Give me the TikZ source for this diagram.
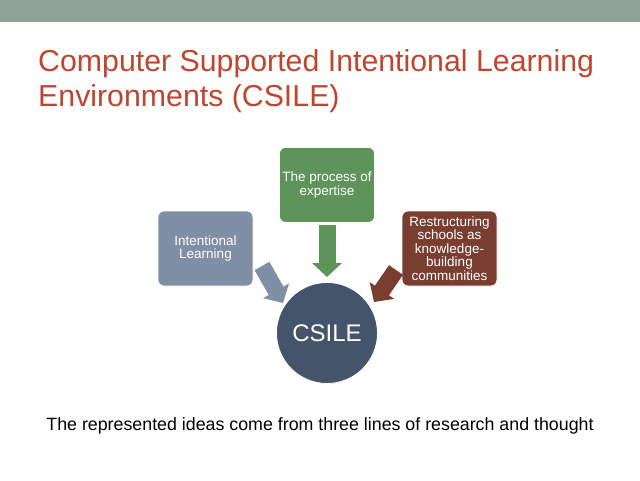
\documentclass[tikz,border=0pt]{standalone}
\usepackage{fontspec}
\setmainfont{Liberation Sans}
\usetikzlibrary{arrows.meta}
\definecolor{bar}{HTML}{8FA39A}
\definecolor{ttl}{HTML}{C0452F}
\definecolor{cgray}{HTML}{7F8FA6}
\definecolor{cgreen}{HTML}{5E9359}
\definecolor{cbrown}{HTML}{7A3E31}
\definecolor{cdark}{HTML}{44546A}
\begin{document}
\begin{tikzpicture}[x=1pt,y=-1pt,
 box/.style={draw=white,line width=0.8pt,rounded corners=6pt,minimum width=95pt,minimum height=75pt,text=white,font=\fontsize{13.5}{13.5}\selectfont,align=center,inner sep=2pt},
 fat/.style={line width=17pt,-{Triangle[width=29pt,length=14pt]}, shorten >=0pt}]
\useasboundingbox (0,0) rectangle (640,480);
\fill[white] (0,0) rectangle (640,480);
\fill[bar] (0,0) rectangle (640,22);
\node[anchor=west,text=ttl,font=\fontsize{30.3}{35}\selectfont,align=left,inner sep=0] (title) at (38,81) {Computer Supported Intentional Learning\\Environments (CSILE)};
\node[box,fill=cgray] (il) at (205.5,248.5) {Intentional\\Learning};
\node[box,fill=cgreen,anchor=north] (pe) at (327,147) {The process of\\expertise};
\node[box,fill=cbrown] (rs) at (449.5,248.5) {Restructuring\\schools as\\knowledge-\\building\\communities};
\node[circle,fill=cdark,draw=white,line width=0.8pt,minimum size=101pt,text=white,font=\fontsize{24}{24}\selectfont] (cs) at (327,333) {CSILE};
\coordinate (a1) at (262,266); \coordinate (t1) at (283,303);
\coordinate (a2) at (327,225); \coordinate (t2) at (327,277);
\coordinate (a3) at (396,270); \coordinate (t3) at (374,302);
\draw[fat,cgray] (a1) -- (t1);
\draw[fat,cgreen] (a2) -- (t2);
\draw[fat,cbrown] (a3) -- (t3);
\node[font=\fontsize{17.8}{17.8}\selectfont] (cap) at (320,426) {The represented ideas come from three lines of research and thought};
\end{tikzpicture}
\end{document}
